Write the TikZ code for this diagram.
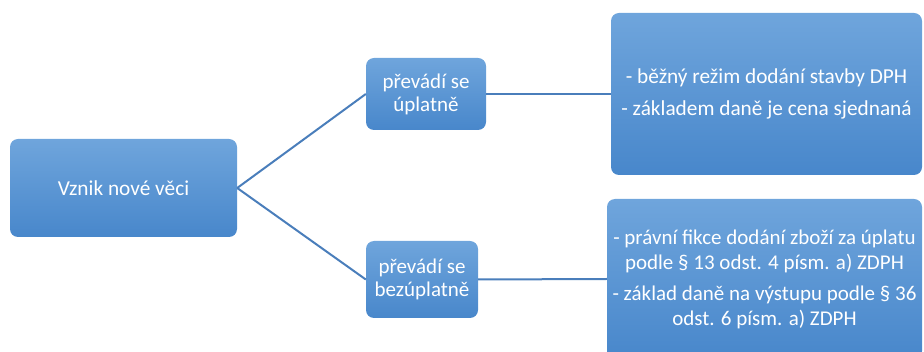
\documentclass[tikz,border=0pt]{standalone}
\usepackage{fontspec}
\setmainfont{Carlito}
\definecolor{boxtop}{HTML}{6FA5DC}
\definecolor{boxbot}{HTML}{4887CB}
\definecolor{linkc}{HTML}{4A7EBB}
\begin{document}
\begin{tikzpicture}[x=1pt,y=-1pt,
  box/.style={rounded corners=8pt, top color=boxtop, bottom color=boxbot, draw=none,
    text=white, align=center, inner sep=0pt, font=\fontsize{21}{23}\selectfont},
  link/.style={draw=linkc, line width=2pt}]
\useasboundingbox (0,0) rectangle (924,352);
\node[box, minimum width=227pt, minimum height=98pt, font=\fontsize{21.3}{26}\selectfont] (root) at (123.5,188) {Vznik nové věci};
\node[box, minimum width=120pt, minimum height=72pt] (up) at (426,94) {převádí se\\úplatně};
\node[box, minimum width=112pt, minimum height=77pt] (bez) at (422,279.5) {převádí se\\bezúplatně};
\node[box, minimum width=311pt, minimum height=162pt, font=\fontsize{21.3}{26}\selectfont] (r1) at (766.5,94)
  {- běžný režim dodání stavby DPH\\[6pt]- základem daně je cena sjednaná};
\node[box, minimum width=315pt, minimum height=160pt, font=\fontsize{21}{25}\selectfont] (r2) at (764.5,279)
  {- právní fikce dodání zboží za úplatu\\podle § 13 odst. 4 písm. a) ZDPH\\[6pt]- základ daně na výstupu podle § 36\\odst. 6 písm. a) ZDPH};
\draw[link] (root.east) -- (up.west);
\draw[link] (root.east) -- (bez.west);
\draw[link] (up.east) -- (r1.west);
\draw[link] (bez.east) -- (r2.west);
\end{tikzpicture}
\end{document}
